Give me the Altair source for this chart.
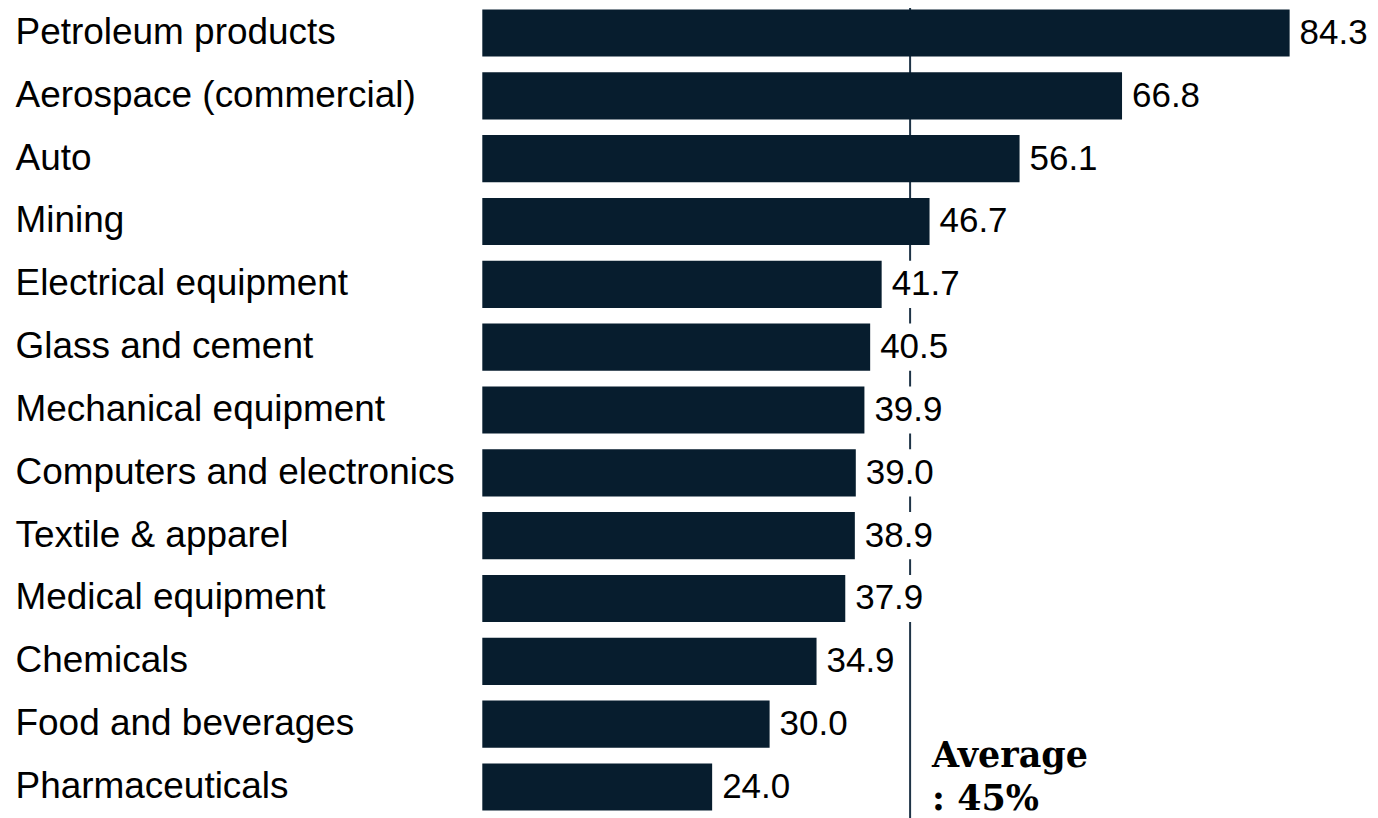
import altair as alt
import pandas as pd

categories = [
    "Petroleum products",
    "Aerospace (commercial)",
    "Auto",
    "Mining",
    "Electrical equipment",
    "Glass and cement",
    "Mechanical equipment",
    "Computers and electronics",
    "Textile & apparel",
    "Medical equipment",
    "Chemicals",
    "Food and beverages",
    "Pharmaceuticals",
]
values = [84.3, 66.8, 56.1, 46.7, 41.7, 40.5, 39.9, 39.0, 38.9, 37.9, 34.9, 30.0, 24.0]
average_value = 44.67
average_label = ["Average", ": 45%"]

df = pd.DataFrame({"category": categories, "value": values})
avg_df = pd.DataFrame({"avg": [average_value], "category": [categories[-1]]})

BAR = "#071d2e"
FONT = "Liberation Sans"

y_enc = alt.Y(
    "category:N",
    sort=categories,
    scale=alt.Scale(paddingInner=0.25, paddingOuter=0.125),
    axis=alt.Axis(
        title=None, ticks=False, domain=False, labelAlign="left",
        labelPadding=468, labelFontSize=37, labelFont=FONT,
        labelColor="#000000", labelLimit=0,
    ),
)
x_enc = alt.X("value:Q", scale=alt.Scale(domain=[0, 88]), axis=None)

base = alt.Chart(df)

rule = alt.Chart(avg_df).mark_rule(color="#1f3447", strokeWidth=2).encode(
    x=alt.X("avg:Q", scale=alt.Scale(domain=[0, 88]), axis=None)
)

boxes = base.transform_calculate(box_end="datum.value + 8.3").mark_bar(
    color="white"
).encode(x=x_enc, x2="box_end:Q", y=y_enc)

bars = base.mark_bar(color=BAR).encode(x=x_enc, y=y_enc)

labels = base.mark_text(
    align="left", baseline="middle", dx=10, fontSize=35, font=FONT, color="#000000"
).encode(x=x_enc, y=y_enc, text=alt.Text("value:Q", format=".1f"))

annot = alt.Chart(avg_df).mark_text(
    align="left", baseline="middle", dx=22, dy=-31, fontSize=35, font="DejaVu Serif",
    fontWeight="bold", color="#000000", lineHeight=43,
).encode(
    x=alt.X("avg:Q", scale=alt.Scale(domain=[0, 88]), axis=None),
    y=alt.Y("category:N", sort=categories),
    text=alt.value(average_label),
)

chart = (
    alt.layer(rule, boxes, bars, labels, annot)
    .properties(
        width=844, height=818,
        padding={"top": -8, "left": 7, "right": 0, "bottom": 0},
    )
    .configure_view(stroke=None)
)

chart.save("out.html", embed_options={"renderer": "svg", "actions": False})
